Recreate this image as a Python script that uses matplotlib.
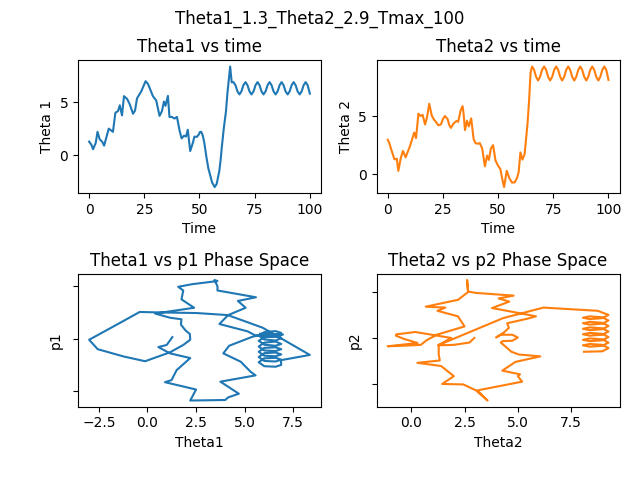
import matplotlib
matplotlib.use("Agg")
import matplotlib.pyplot as plt

# ---- data ----
# pendulum 1: time, angle, momentum (momentum in arbitrary units, ticks at -1/0/1)
t1 = [0, 1.0, 1.8, 3.0, 3.8, 4.8, 6.0, 6.8, 8.9, 10.8,
      11.9, 13.1, 13.9, 14.9, 15.8, 17.2, 18.4, 19.9, 20.8, 21.7,
      23.6, 25.6, 26.7, 28.9, 30.4, 31.9, 33.0, 33.9, 34.6, 35.7,
      36.4, 37.5, 38.7, 39.8, 41.0, 41.9, 43.0, 43.9, 44.7,
      45.8, 47.0, 47.7, 48.8, 49.7, 50.2, 50.8, 51.5, 52.2, 53.1,
      54.0, 55.7, 56.9, 57.8, 59.0, 59.6, 60.1, 61.0, 62.0, 62.7,
      63.9, 64.6]
theta1 = [1.28, 0.99, 0.56, 1.16, 2.2, 1.5, 1.24, 0.9, 2.5, 2.2,
          4.0, 4.15, 4.7, 3.75, 5.56, 5.3, 4.8, 3.9, 4.2, 5.35,
          6.0, 6.97, 6.7, 5.56, 5.15, 3.7, 4.15, 5.05, 4.65, 5.58,
          3.6, 3.6, 3.45, 3.6, 2.3, 1.58, 1.84, 1.75, 2.4,
          0.39, 1.16, 1.75, 1.72, 1.95, 2.18, 2.2, 1.84, 1.16, -0.12,
          -1.22, -2.56, -3.0, -2.7, -1.47, -0.4, 0.72, 2.5, 4.13, 5.92,
          8.35, 6.86]
p1 = [0.03, -0.12, -0.16, -0.28, -0.37, -0.6, -0.79, -0.83, -0.97, -1.18,
      -1.17, -1.12, -1.05, -0.82, -0.70, -0.63, -0.44, -0.28, -0.135, 0.03,
      0.1, 0.08, 0.04, 0.06, 0.14, 0.28, 0.45, 0.59, 0.72, 0.79,
      0.92, 1.0, 1.12, 1.1, 1.04, 0.99, 0.92, 0.75, 0.59,
      0.48, 0.40, 0.37, 0.27, 0.16, 0.09, -0.02, -0.12, -0.26, -0.43,
      -0.34, -0.2, -0.02, 0.04, 0.29, 0.51, 0.5, 0.49, 0.45, 0.21,
      -0.31, -0.41]

# pendulum 2
t2 = [0, 0.6, 1.8, 3.0, 3.6, 4.1, 4.8, 5.9, 6.9, 8.1,
      10.1, 11.1, 12.0, 12.8, 13.9, 14.9, 15.8, 16.9, 17.8, 18.8,
      19.9, 20.9, 21.8, 22.9, 24.1, 25.0, 25.9, 27.1, 27.9, 28.6,
      29.8, 31.2, 31.9, 33.0, 33.9, 34.3, 35.0, 35.9, 36.7, 37.8,
      38.9, 39.8, 40.7, 41.7, 42.8, 44.0, 45.0, 45.8, 46.7, 47.7,
      48.8, 50.0, 51.0, 51.9, 52.7, 53.9, 55.1, 56.3, 57.5, 58.6,
      59.3, 60.1, 61.0, 62.0, 63.3, 64.0, 64.7]
theta2 = [2.96, 2.73, 2.0, 1.29, 1.29, 1.34, 0.29, 1.4, 2.0, 1.45,
          2.44, 3.04, 3.58, 3.1, 5.2, 5.0, 5.1, 4.27, 4.89, 6.05,
          5.05, 4.7, 4.5, 4.2, 4.28, 4.74, 5.0, 4.74, 4.2, 3.98,
          4.35, 4.58, 4.5, 5.46, 5.85, 5.3, 3.79, 4.6, 4.1, 4.8,
          3.02, 2.66, 2.62, 2.67, 2.2, 0.68, 1.6, 1.23, 2.19, 2.5,
          1.19, 0.72, 0.45, -0.43, -1.1, 0.3, -0.34, -0.72, -0.7, -0.3,
          0.18, 1.88, 1.26, 1.72, 4.3, 6.2, 8.75]
p2 = [0.0, -0.1, -0.15, -0.16, -0.36, -0.49, -0.54, -0.61, -0.83, -1.0,
      -1.01, -1.14, -1.36, -1.14, -0.95, -0.83, -0.79, -0.71, -0.52, -0.40,
      -0.36, -0.30, -0.22, -0.10, -0.07, -0.06, 0.01, 0.07, 0.07, 0.01,
      0.12, 0.22, 0.32, 0.42, 0.47, 0.52, 0.65, 0.79, 0.86, 0.92,
      0.98, 1.01, 1.26, 1.0, 0.83, 0.68, 0.66, 0.59, 0.47, 0.25,
      0.07, -0.05, -0.15, -0.17, -0.18, -0.11, -0.02, 0.05, 0.08, 0.1,
      0.13, 0.0, -0.16, -0.07, 0.43, 0.66, 0.59]

# regular swinging after t ~ 65 (same sample times for both)
t_osc = [65.4, 66.3, 67.2, 68.1, 69.0, 69.9, 70.85, 71.75, 72.65, 73.55,
         74.5, 75.4, 76.3, 77.2, 78.1, 79.0, 79.95, 80.85, 81.75, 82.65,
         83.55, 84.5, 85.4, 86.3, 87.2, 88.1, 89.0, 89.95, 90.85, 91.75,
         92.65, 93.55, 94.45, 95.4, 96.3, 97.2, 98.1, 99.0, 100.0]
theta1_osc = [6.88, 6.59, 6.01, 5.72, 6.01, 6.59, 6.88, 6.59, 6.01, 5.72,
              6.01, 6.59, 6.88, 6.59, 6.01, 5.72, 6.01, 6.59, 6.88, 6.59,
              6.01, 5.72, 6.01, 6.59, 6.88, 6.59, 6.01, 5.72, 6.01, 6.59,
              6.88, 6.59, 6.01, 5.72, 6.01, 6.59, 6.88, 6.59, 5.8]
p1_osc = [-0.50, -0.535, -0.525, -0.45, -0.375, -0.365, -0.40, -0.435, -0.425, -0.35,
          -0.275, -0.265, -0.30, -0.335, -0.325, -0.25, -0.175, -0.165, -0.20, -0.235,
          -0.225, -0.15, -0.075, -0.055, -0.10, -0.135, -0.115, -0.04, 0.025, 0.045,
          0.01, -0.035, -0.015, 0.06, 0.125, 0.145, 0.11, 0.075, 0.095]
theta2_osc = [9.25, 8.96, 8.37, 8.05, 8.37, 8.96, 9.25, 8.96, 8.37, 8.05,
              8.37, 8.96, 9.25, 8.96, 8.37, 8.05, 8.37, 8.96, 9.25, 8.96,
              8.37, 8.05, 8.37, 8.96, 9.25, 8.96, 8.37, 8.05, 8.37, 8.96,
              9.25, 8.96, 8.37, 8.05, 8.37, 8.96, 9.25, 8.96, 8.1]
p2_osc = [0.50, 0.43, 0.41, 0.44, 0.47, 0.45, 0.38, 0.31, 0.29, 0.32,
          0.35, 0.33, 0.26, 0.19, 0.17, 0.20, 0.23, 0.21, 0.14, 0.07,
          0.05, 0.08, 0.11, 0.09, 0.02, -0.05, -0.07, -0.04, -0.01, -0.03,
          -0.10, -0.17, -0.19, -0.16, -0.13, -0.15, -0.22, -0.29, -0.30]

time1 = t1 + t_osc
th1 = theta1 + theta1_osc
mom1 = p1 + p1_osc
time2 = t2 + t_osc
th2 = theta2 + theta2_osc
mom2 = p2 + p2_osc

fig, axes = plt.subplots(2, 2, figsize=(6.4, 4.8))
fig.suptitle("Theta1_1.3_Theta2_2.9_Tmax_100")

ax = axes[0, 0]
ax.plot(time1, th1, color="C0")
ax.set_title("Theta1 vs time")
ax.set_xlabel("Time")
ax.set_ylabel("Theta 1")

ax = axes[0, 1]
ax.plot(time2, th2, color="C1")
ax.set_title("Theta2 vs time")
ax.set_xlabel("Time")
ax.set_ylabel("Theta 2")

ax = axes[1, 0]
ax.plot(th1, mom1, color="C0")
ax.set_title("Theta1 vs p1 Phase Space")
ax.set_xlabel("Theta1")
ax.set_ylabel("p1")
ax.set_yticks([-1, 0, 1])
ax.set_yticklabels([])

ax = axes[1, 1]
ax.plot(th2, mom2, color="C1")
ax.set_title("Theta2 vs p2 Phase Space")
ax.set_xlabel("Theta2")
ax.set_ylabel("p2")
ax.set_yticks([-1, 0, 1])
ax.set_yticklabels([])

plt.subplots_adjust(left=0.122, right=0.968, top=0.874, bottom=0.153,
                    wspace=0.23, hspace=0.61)
plt.savefig("out.png", dpi=100)
